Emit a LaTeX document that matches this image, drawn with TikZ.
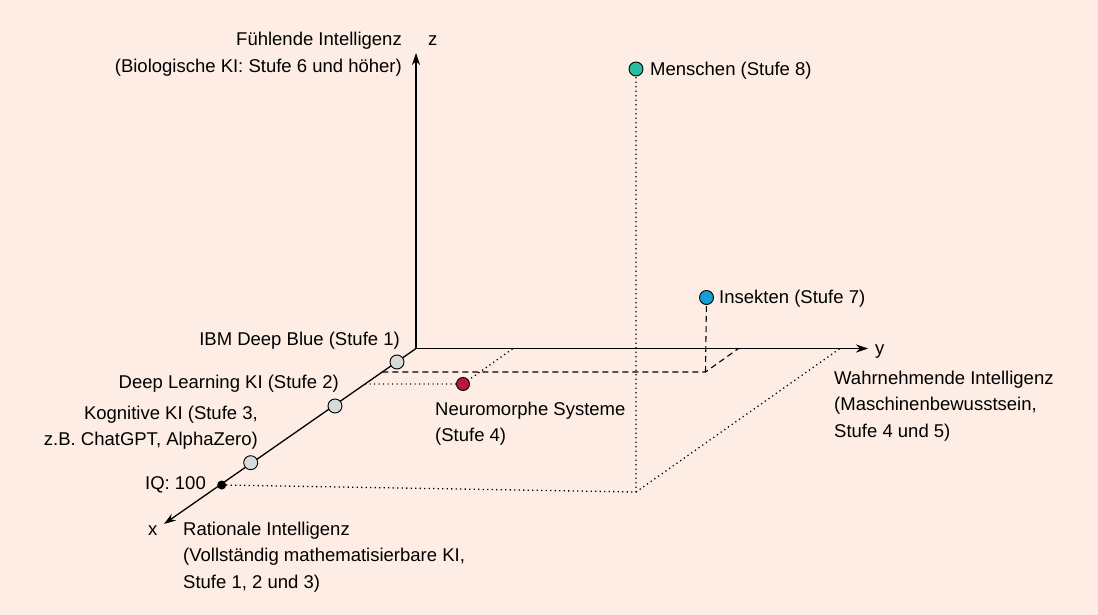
\documentclass[tikz,border=0pt]{standalone}
\usepackage{fontspec}
\setmainfont{Liberation Sans}
\usetikzlibrary{arrows.meta}
\definecolor{bg}{RGB}{253,237,228}
\definecolor{pgray}{RGB}{214,218,220}
\definecolor{pred}{RGB}{185,25,60}
\definecolor{pteal}{RGB}{40,190,162}
\definecolor{pblue}{RGB}{18,160,216}
\newcommand\mylines[2]{\begin{tabular}[t]{@{}#1@{}}#2\end{tabular}}
\pgfdeclarelayer{backlayer}
\pgfdeclarelayer{linelayer}
\pgfsetlayers{backlayer,linelayer,main}
\begin{document}
\begin{tikzpicture}[x=1pt,y=-1pt,
  axis/.style={line width=1.3pt,-{Stealth[length=12pt,width=8pt]}},
  guide/.style={line width=1.1pt,dash pattern=on 6pt off 4pt},
  dots/.style={line width=1.3pt,dash pattern=on 1.2pt off 3.3pt},
  lbl/.style={inner sep=0pt,font=\fontsize{18.5}{26.5}\selectfont},
  pt/.style={circle,draw=black,line width=0.9pt,minimum size=14pt,inner sep=0pt},
]
\begin{pgfonlayer}{backlayer}
\fill[bg] (0,0) rectangle (1098,615);
\end{pgfonlayer}
\useasboundingbox (0,0) rectangle (1098,615);

% axes origin and tips
\coordinate (O) at (416,348.5);
\coordinate (Z) at (416,53);
\coordinate (Y) at (868,348.5);
\coordinate (X) at (164,524);

% points
\node[pt,fill=pgray] (ibm) at (397,362) {};
\node[pt,fill=pgray] (dl) at (335,406) {};
\node[pt,fill=pgray] (kog) at (250.7,462.7) {};
\node[circle,fill=black,minimum size=9pt,inner sep=0pt] (iq) at (221.7,485) {};
\node[pt,fill=pred,minimum size=13pt] (neuro) at (463,384) {};
\node[pt,fill=pteal] (mensch) at (636,69) {};
\node[pt,fill=pblue] (insekt) at (706.5,297.5) {};

% helper coordinates
\coordinate (g1) at (382.4,372);
\coordinate (g2) at (705.5,372);
\coordinate (g3) at (738.5,348.5);
\coordinate (n1) at (365,384);
\coordinate (n2) at (513,348.5);
\coordinate (m1) at (636,492);
\coordinate (m2) at (840,348.5);

\begin{pgfonlayer}{linelayer}
\draw[guide] (g1) -- (g2) -- (g3);
\draw[guide] (g2) -- (insekt);
\draw[dots] (n1) -- (neuro.center) -- (n2);
\draw[dots] (iq.center) -- (m1) -- (mensch.center);
\draw[dots] (m1) -- (m2);
\draw[axis] (O) -- (Z);
\draw[axis] (O) -- (Y);
\draw[axis] (O) -- (X);
\end{pgfonlayer}

% labels
\node[lbl,anchor=base west] (zl) at (428,46) {z};
\node[lbl,anchor=base east] (fuehl) at (402,46) {\mylines{r}{Fühlende Intelligenz\hspace{7pt}\\(Biologische KI: Stufe 6 und höher)}};
\node[lbl,anchor=base west] (menschl) at (650,76) {Menschen (Stufe 8)};
\node[lbl,anchor=base west] (insektl) at (719,303) {Insekten (Stufe 7)};
\node[lbl,anchor=base west] (yl) at (875,354) {y};
\node[lbl,anchor=base west] (wahr) at (834,384) {\mylines{l}{Wahrnehmende Intelligenz\\(Maschinenbewusstsein,\\Stufe 4 und 5)}};
\node[lbl,anchor=base east] (ibml) at (400,345) {IBM Deep Blue (Stufe 1)};
\node[lbl,anchor=base east] (dll) at (339,388) {Deep Learning KI (Stufe 2)};
\node[lbl,anchor=base east] (kogl) at (258,419) {\mylines{r}{Kognitive KI (Stufe 3,\\z.B. ChatGPT, AlphaZero)}};
\node[lbl,anchor=base east] (iql) at (206,489) {IQ: 100};
\node[lbl,anchor=base west] (xl) at (148,535) {x};
\node[lbl,anchor=base west] (ratl) at (183,535) {\mylines{l}{Rationale Intelligenz\\(Vollständig mathematisierbare KI,\\Stufe 1, 2 und 3)}};
\node[lbl,anchor=base west] (neurol) at (435,415) {\mylines{l}{Neuromorphe Systeme\\(Stufe 4)}};
\end{tikzpicture}
\end{document}
